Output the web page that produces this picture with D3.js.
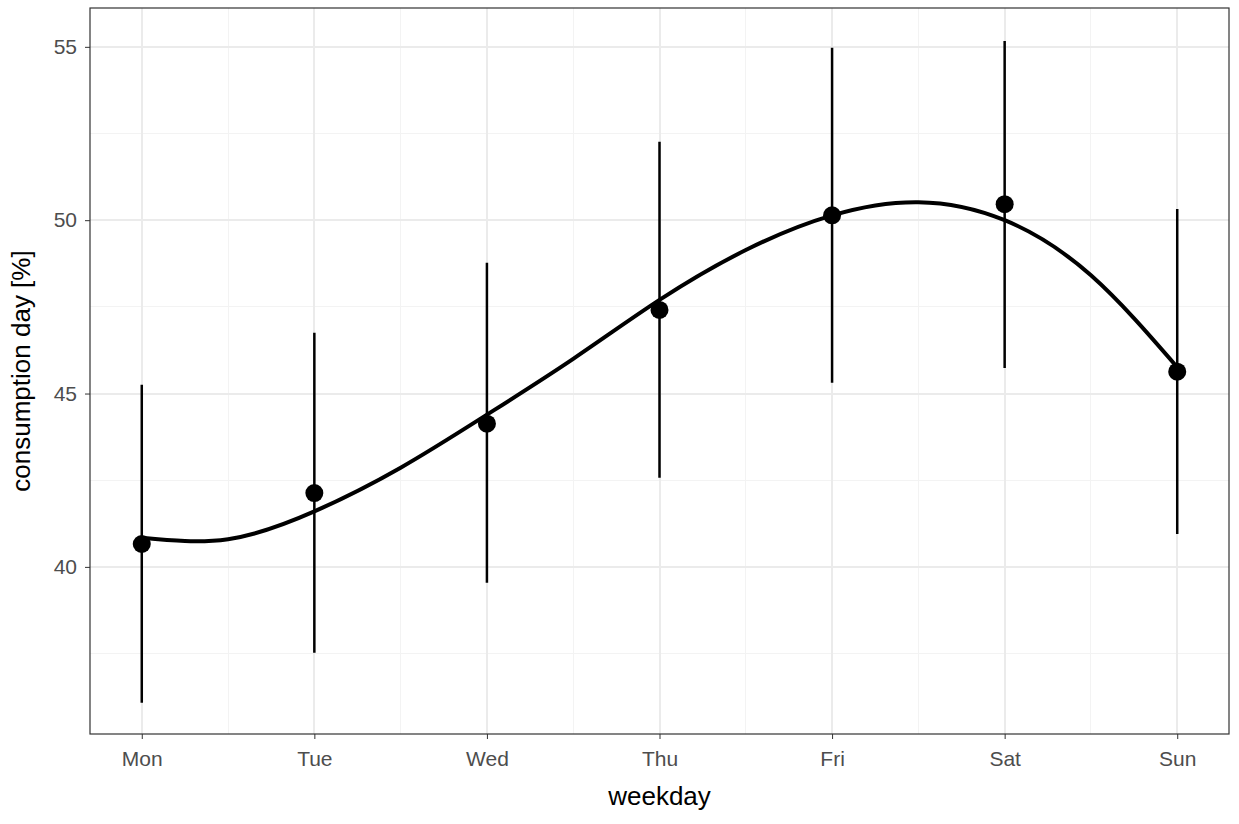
<!DOCTYPE html>
<html>
<head>
<meta charset="utf-8">
<script src="https://d3js.org/d3.v7.min.js"></script>
<style>
  body {margin: 0; background: #fff; font-family: "Liberation Sans", Helvetica, sans-serif;}
  .grid line {stroke: #ebebeb; shape-rendering: crispEdges;}
  .tick text {fill: #4d4d4d; font-size: 21px;}
</style>
</head>
<body>
<svg width="1239" height="824"></svg>
<script>
// data
var days = ["Mon", "Tue", "Wed", "Thu", "Fri", "Sat", "Sun"];
var means = [40.66, 42.13, 44.13, 47.41, 50.14, 50.46, 45.63];
var lower = [36.08, 37.52, 39.54, 42.57, 45.31, 45.74, 40.95];
var upper = [45.25, 46.75, 48.77, 52.26, 54.97, 55.17, 50.32];
var smoothX = [1, 1.5, 2, 2.5, 3, 3.5, 4, 4.5, 5, 5.5, 6, 6.5, 7];
var smoothY = [40.84, 40.8, 41.6, 42.86, 44.39, 46.0, 47.70, 49.14, 50.14, 50.52, 50.0, 48.41, 45.76];
var yTicks = [40, 45, 50, 55];
var yMinor = [37.5, 42.5, 47.5, 52.5];

var svg = d3.select("svg"),
    margin = {top: 8, right: 10, bottom: 90, left: 90},
    width = 1239 - margin.left - margin.right,
    height = 824 - margin.top - margin.bottom;

var g = svg.append("g").attr("transform", "translate(" + margin.left + "," + margin.top + ")");

var x = d3.scaleLinear().domain([0.7, 7.3]).range([0, width]);
var y = d3.scaleLinear().domain([35.18, 56.12]).range([height, 0]);

// minor grid
g.append("g").attr("class", "grid").selectAll("line")
    .data(yMinor).enter().append("line")
    .attr("x1", 0).attr("x2", width)
    .attr("y1", d => y(d)).attr("y2", d => y(d))
    .attr("stroke-width", 1).style("stroke", "#f3f3f3");
g.append("g").attr("class", "grid").selectAll("line")
    .data(d3.range(1.5, 7, 1)).enter().append("line")
    .attr("y1", 0).attr("y2", height)
    .attr("x1", d => x(d)).attr("x2", d => x(d))
    .attr("stroke-width", 1).style("stroke", "#f3f3f3");

// major grid
g.append("g").attr("class", "grid").selectAll("line")
    .data(yTicks).enter().append("line")
    .attr("x1", 0).attr("x2", width)
    .attr("y1", d => y(d)).attr("y2", d => y(d))
    .attr("stroke-width", 2);
g.append("g").attr("class", "grid").selectAll("line")
    .data(days).enter().append("line")
    .attr("y1", 0).attr("y2", height)
    .attr("x1", (d, i) => x(i + 1)).attr("x2", (d, i) => x(i + 1))
    .attr("stroke-width", 2);

// axes
var xAxis = g.append("g")
    .attr("transform", "translate(0," + height + ")")
    .call(d3.axisBottom(x).tickValues(d3.range(1, 8)).tickFormat((d) => days[d - 1]).tickSize(5).tickPadding(12));
var yAxis = g.append("g")
    .call(d3.axisLeft(y).tickValues(yTicks).tickSize(5).tickPadding(8));
[xAxis, yAxis].forEach(function(a) {
  a.select(".domain").remove();
  a.selectAll(".tick line").attr("stroke", "#333");
});

// error bars
g.selectAll(".err").data(days).enter().append("line")
    .attr("x1", (d, i) => x(i + 1)).attr("x2", (d, i) => x(i + 1))
    .attr("y1", (d, i) => y(lower[i])).attr("y2", (d, i) => y(upper[i]))
    .attr("stroke", "#000").attr("stroke-width", 2.5);

// smooth line
var line = d3.line().curve(d3.curveNatural)
    .x(d => x(d[0])).y(d => y(d[1]));
g.append("path")
    .datum(smoothX.map((v, i) => [v, smoothY[i]]))
    .attr("d", line)
    .attr("fill", "none").attr("stroke", "#000").attr("stroke-width", 4);

// points
g.selectAll(".pt").data(means).enter().append("circle")
    .attr("cx", (d, i) => x(i + 1)).attr("cy", d => y(d))
    .attr("r", 9).attr("fill", "#000");

// panel border
g.append("rect").attr("width", width).attr("height", height)
    .attr("fill", "none").attr("stroke", "#333").attr("stroke-width", 1.2);

// titles
svg.append("text")
    .attr("x", margin.left + width / 2).attr("y", 805)
    .attr("text-anchor", "middle").attr("font-size", 26).attr("fill", "#000")
    .text("weekday");
svg.append("text")
    .attr("transform", "translate(30," + (margin.top + height / 2) + ") rotate(-90)")
    .attr("text-anchor", "middle").attr("font-size", 26).attr("fill", "#000")
    .text("consumption day [%]");
</script>
</body>
</html>
